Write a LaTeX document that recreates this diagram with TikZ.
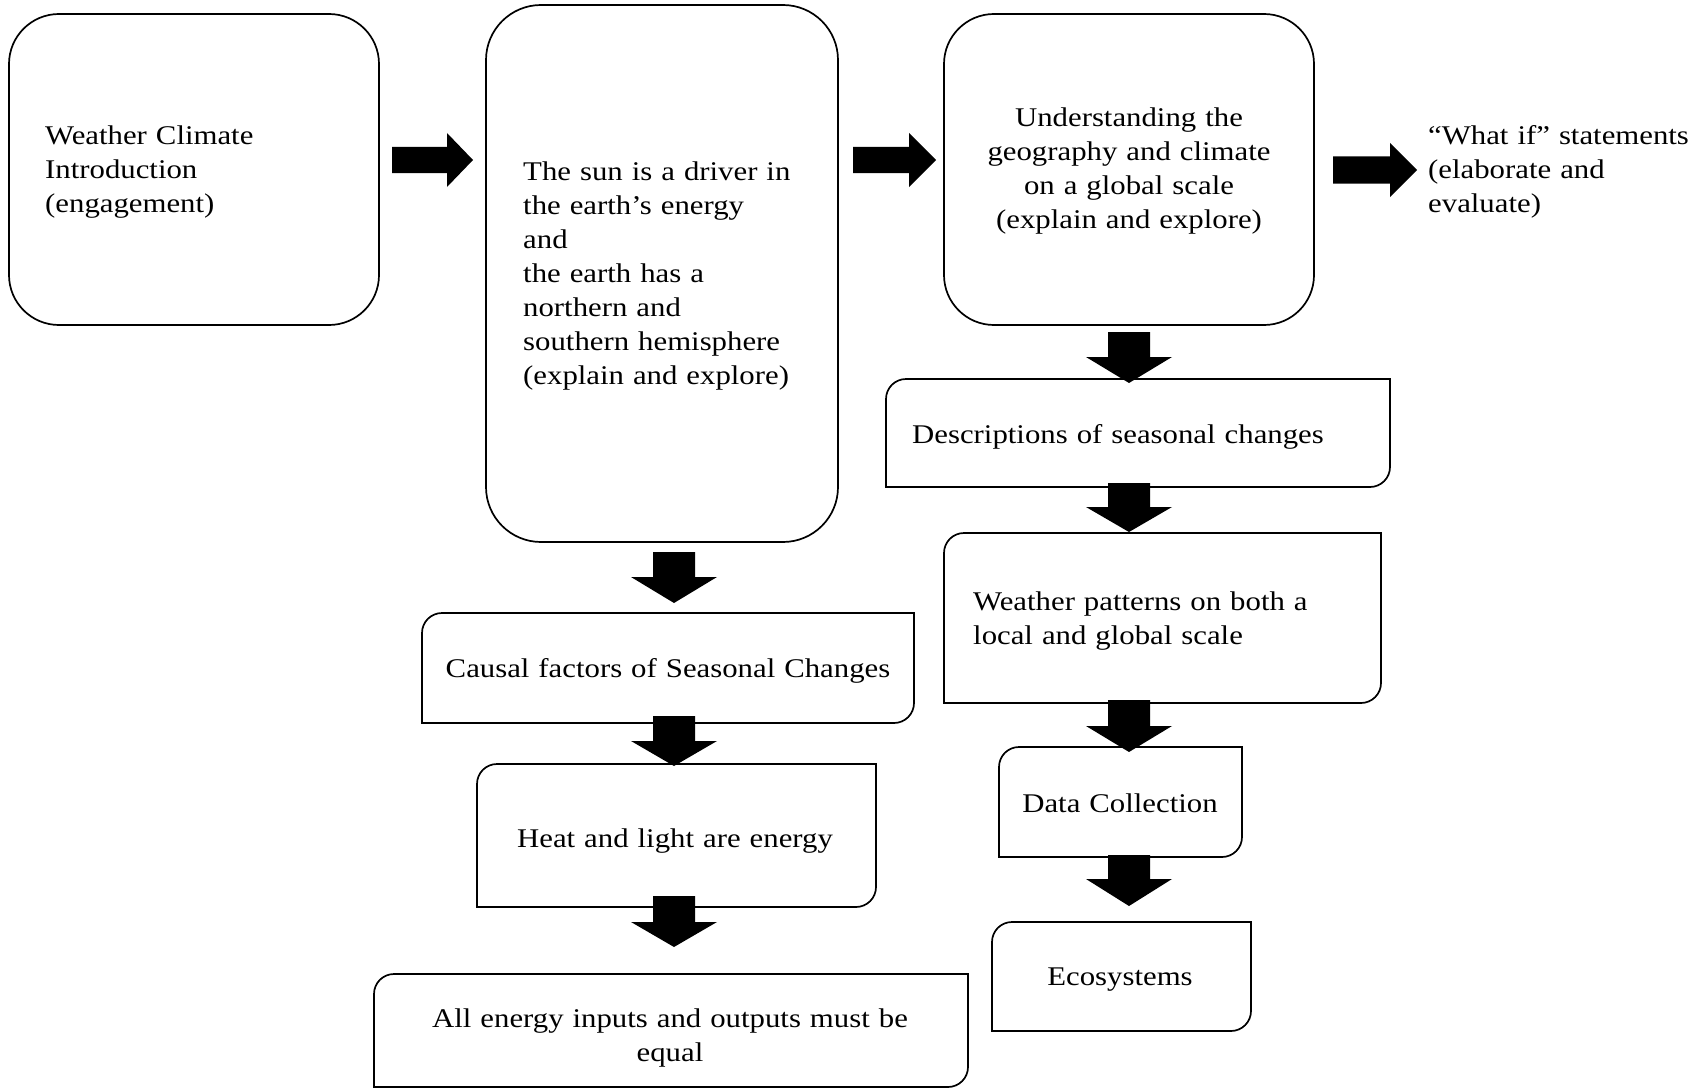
\documentclass[tikz,border=0pt]{standalone}
\usepackage{fontspec}
\setmainfont{Liberation Serif}[FakeStretch=1.14]
\begin{document}
\begin{tikzpicture}[x=1pt,y=-1pt,
  boxline/.style={draw=black, line width=1.7pt},
  txt/.style={inner sep=0pt, font=\fontsize{27}{34}\selectfont, text=black},
  ltxt/.style={txt, anchor=base west, align=left, text width=#1},
  ctxt/.style={txt, anchor=base, align=center, text width=#1},
  blk/.style={fill=black}]
\useasboundingbox (0,0) rectangle (1700,1089);
\fill[white] (0,0) rectangle (1700,1089);

% fully rounded boxes
\node[boxline, rounded corners=50pt, minimum width=370pt, minimum height=311pt, inner sep=0pt] (b1) at (194,169.5) {};
\node[boxline, rounded corners=55pt, minimum width=352pt, minimum height=537pt, inner sep=0pt] (b2) at (662,273.5) {};
\node[boxline, rounded corners=50pt, minimum width=370pt, minimum height=311pt, inner sep=0pt] (b3) at (1129,169.5) {};

% boxes rounded at top-left and bottom-right
\newcommand{\tlbrbox}[5]{\draw[boxline] (#1,{#2+#5}) .. controls (#1,{#2+0.448*#5}) and ({#1+0.448*#5},#2) .. ({#1+#5},#2) -- (#3,#2) -- (#3,{#4-#5}) .. controls (#3,{#4-0.448*#5}) and ({#3-0.448*#5},#4) .. ({#3-#5},#4) -- (#1,#4) -- cycle;}
\tlbrbox{886}{379}{1390}{487}{20}
\tlbrbox{944}{533}{1381}{703}{20}
\tlbrbox{999}{747}{1242}{857}{20}
\tlbrbox{992}{922}{1251}{1031}{20}
\tlbrbox{422}{613}{914}{723}{20}
\tlbrbox{477}{764}{876}{907}{20}
\tlbrbox{374}{974}{968}{1087}{20}

% texts
\node[ltxt=320pt] (t1) at (45,145) {Weather Climate\\Introduction\\(engagement)};
\node[ltxt=320pt] (t2) at (523,180) {The sun is a driver in\\the earth’s energy\\and\\the earth has a\\northern and\\southern hemisphere\\(explain and explore)};
\node[ctxt=370pt] (t3) at (1129,127) {Understanding the\\geography and climate\\on a global scale\\(explain and explore)};
\node[ltxt=470pt] (t4) at (912,443) {Descriptions of seasonal changes};
\node[ltxt=420pt] (t5) at (973,610) {Weather patterns on both a\\local and global scale};
\node[ctxt=240pt] (t6) at (1120,812) {Data Collection};
\node[ctxt=250pt] (t7) at (1120,985) {Ecosystems};
\node[ctxt=490pt] (t8) at (668,677) {Causal factors of Seasonal Changes};
\node[ctxt=390pt] (t9) at (675,847) {Heat and light are energy};
\node[ctxt=590pt] (t10) at (670,1027) {All energy inputs and outputs must be\\equal};
\node[ltxt=300pt] (t11) at (1428,145) {“What if” statements\\(elaborate and\\evaluate)};

% block arrows
\newcommand{\darr}[4]{\fill[blk] ({#1-21},#2) -- ({#1+21},#2) -- ({#1+21},#3) -- ({#1+43},#3) -- (#1,#4) -- ({#1-43},#3) -- ({#1-21},#3) -- cycle;}
\newcommand{\rarr}[6]{\fill[blk] (#1,{#4-#5}) -- (#2,{#4-#5}) -- (#2,{#4-#6}) -- (#3,#4) -- (#2,{#4+#6}) -- (#2,{#4+#5}) -- (#1,{#4+#5}) -- cycle;}
\rarr{392}{447}{473}{160}{13}{27}
\rarr{853}{909}{936}{160}{13}{27}
\rarr{1333}{1390}{1417}{170}{13.5}{27}
\darr{674}{552}{577}{603}
\darr{674}{716}{741}{766}
\darr{674}{896}{922}{947}
\darr{1129}{332}{357}{383}
\darr{1129}{483}{507}{532}
\darr{1129}{700}{726}{752}
\darr{1129}{855}{879}{906}
\end{tikzpicture}
\end{document}
